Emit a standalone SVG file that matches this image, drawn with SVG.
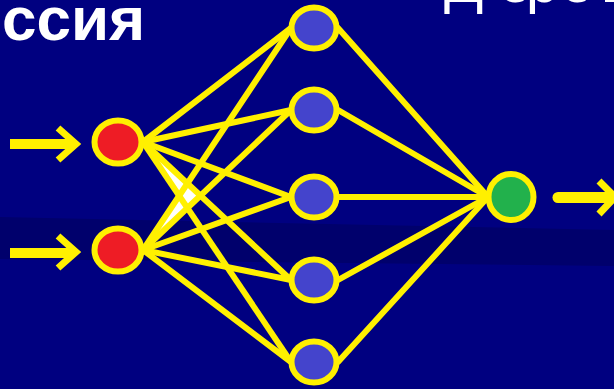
<svg xmlns="http://www.w3.org/2000/svg" width="614" height="389" viewBox="0 0 614 389">
<style>
.ln{stroke:#FFF000;stroke-width:6;fill:none;stroke-linecap:round}
.ring{stroke:#FFF000;stroke-width:6}
.red{fill:#EE1C25}
.blue{fill:#4444CC}
.green{fill:#22B14C}
.shaft{fill:#FFF000}
.chev{stroke:#FFF000;stroke-width:7;fill:none;stroke-linejoin:miter}
.t{fill:#FFFFFF;font-family:"Liberation Sans",Arial,sans-serif}
</style>
<rect width="614" height="389" fill="#000080"/>
<polygon points="0,217 614,230 614,266 0,259" fill="#00006C"/>
<text class="t" x="2" y="40" font-size="62" font-weight="bold">ссия</text>
<text class="t" x="444 499 526 561 601" y="2" font-size="58">Дерев</text>
<g id="connectors">
<polygon points="143,142 187.4,183.4 200.5,195.6 187.4,208 143,250 179.2,195.8" fill="#FFFFFF"/>
<line class="ln" x1="143" y1="142" x2="291" y2="28"/>
<line class="ln" x1="143" y1="142" x2="291" y2="110"/>
<line class="ln" x1="143" y1="142" x2="291" y2="197"/>
<line class="ln" x1="143" y1="142" x2="291" y2="280"/>
<line class="ln" x1="143" y1="142" x2="291" y2="362"/>
<line class="ln" x1="143" y1="250" x2="291" y2="28"/>
<line class="ln" x1="143" y1="250" x2="291" y2="110"/>
<line class="ln" x1="143" y1="250" x2="291" y2="197"/>
<line class="ln" x1="143" y1="250" x2="291" y2="280"/>
<line class="ln" x1="143" y1="250" x2="291" y2="362"/>
<line class="ln" x1="338" y1="28" x2="488" y2="197"/>
<line class="ln" x1="338" y1="110" x2="488" y2="197"/>
<line class="ln" x1="338" y1="197" x2="488" y2="197"/>
<line class="ln" x1="338" y1="280" x2="488" y2="197"/>
<line class="ln" x1="338" y1="362" x2="488" y2="197"/>
<rect class="shaft" x="10" y="139" width="64" height="10"/>
<polyline class="chev" points="58,128 76,144 58,160"/>
<rect class="shaft" x="10" y="248" width="64" height="10"/>
<polyline class="chev" points="58,236 76,252 58,268"/>
<line x1="558" y1="197.5" x2="612" y2="197.5" stroke="#FFF000" stroke-width="11" stroke-linecap="round"/>
<polyline class="chev" points="599,181 615,197 599,214"/>
</g>
<g id="in1"><ellipse class="red ring" cx="118" cy="142" rx="23.5" ry="21.5"/></g>
<g id="in2"><ellipse class="red ring" cx="118" cy="250" rx="23.5" ry="21.5"/></g>
<g id="h1"><ellipse class="blue ring" cx="314" cy="28" rx="22.5" ry="20.5"/></g>
<g id="h2"><ellipse class="blue ring" cx="314" cy="110" rx="22.5" ry="20.5"/></g>
<g id="h3"><ellipse class="blue ring" cx="314" cy="197" rx="22.5" ry="20.5"/></g>
<g id="h4"><ellipse class="blue ring" cx="314" cy="280" rx="22.5" ry="20.5"/></g>
<g id="h5"><ellipse class="blue ring" cx="314" cy="362" rx="22.5" ry="20.5"/></g>
<g id="out"><ellipse class="green ring" cx="511" cy="197" rx="22.5" ry="23"/></g>
</svg>
